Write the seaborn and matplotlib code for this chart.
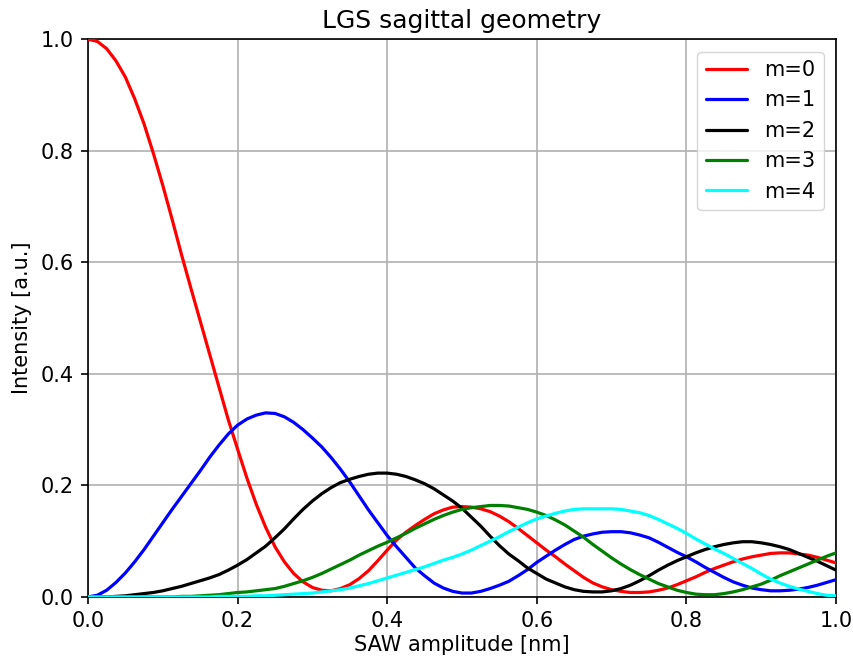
import matplotlib
matplotlib.use("Agg")
import matplotlib.pyplot as plt
import numpy as np
import pandas as pd
import seaborn as sns

# SAW amplitude sample positions [nm], 0 to 1 in steps of 0.0125
amplitude = np.round(np.linspace(0.0, 1.0, 81), 4)

# Diffraction order intensities [a.u.]
m0 = [1.000, 0.996, 0.983, 0.961, 0.932, 0.893, 0.848, 0.795, 0.738, 0.677,
      0.614, 0.554, 0.495, 0.436, 0.377, 0.318, 0.265, 0.213, 0.166, 0.125,
      0.090, 0.063, 0.042, 0.027, 0.017, 0.012, 0.011, 0.015, 0.022, 0.033,
      0.047, 0.065, 0.084, 0.102, 0.116, 0.128, 0.139, 0.149, 0.156, 0.161,
      0.162, 0.161, 0.158, 0.153, 0.145, 0.135, 0.123, 0.110, 0.097, 0.084,
      0.072, 0.059, 0.047, 0.035, 0.025, 0.018, 0.013, 0.010, 0.008, 0.008,
      0.009, 0.012, 0.016, 0.022, 0.029, 0.036, 0.044, 0.051, 0.057, 0.063,
      0.068, 0.072, 0.075, 0.078, 0.079, 0.079, 0.077, 0.075, 0.071, 0.066,
      0.061]
m1 = [0.000, 0.003, 0.012, 0.026, 0.043, 0.063, 0.085, 0.109, 0.133, 0.157,
      0.180, 0.203, 0.226, 0.250, 0.272, 0.292, 0.308, 0.319, 0.326, 0.330,
      0.329, 0.323, 0.313, 0.300, 0.285, 0.269, 0.250, 0.229, 0.206, 0.181,
      0.156, 0.133, 0.110, 0.090, 0.071, 0.052, 0.038, 0.025, 0.016, 0.010,
      0.007, 0.007, 0.010, 0.015, 0.021, 0.028, 0.038, 0.049, 0.062, 0.073,
      0.084, 0.094, 0.103, 0.109, 0.113, 0.116, 0.117, 0.117, 0.115, 0.111,
      0.106, 0.098, 0.089, 0.080, 0.072, 0.063, 0.053, 0.044, 0.035, 0.027,
      0.021, 0.016, 0.013, 0.011, 0.011, 0.012, 0.014, 0.017, 0.021, 0.026,
      0.031]
m2 = [0.000, 0.000, 0.000, 0.001, 0.002, 0.004, 0.006, 0.008, 0.011, 0.015,
      0.019, 0.024, 0.029, 0.034, 0.040, 0.048, 0.057, 0.067, 0.079, 0.091,
      0.106, 0.122, 0.140, 0.157, 0.172, 0.185, 0.196, 0.205, 0.211, 0.216,
      0.220, 0.222, 0.222, 0.220, 0.216, 0.210, 0.203, 0.194, 0.183, 0.172,
      0.159, 0.143, 0.127, 0.109, 0.092, 0.077, 0.065, 0.052, 0.042, 0.032,
      0.025, 0.018, 0.013, 0.010, 0.009, 0.009, 0.011, 0.015, 0.021, 0.029,
      0.038, 0.048, 0.057, 0.065, 0.072, 0.079, 0.085, 0.090, 0.094, 0.097,
      0.099, 0.099, 0.097, 0.094, 0.090, 0.085, 0.078, 0.071, 0.064, 0.056,
      0.048]
m3 = [0.000, 0.000, 0.000, 0.000, 0.000, 0.000, 0.000, 0.000, 0.000, 0.000,
      0.001, 0.001, 0.002, 0.003, 0.004, 0.006, 0.008, 0.009, 0.011, 0.013,
      0.015, 0.019, 0.024, 0.029, 0.035, 0.042, 0.050, 0.058, 0.066, 0.075,
      0.083, 0.091, 0.098, 0.106, 0.114, 0.123, 0.131, 0.139, 0.146, 0.152,
      0.157, 0.160, 0.162, 0.164, 0.164, 0.163, 0.160, 0.157, 0.152, 0.146,
      0.138, 0.129, 0.118, 0.107, 0.094, 0.082, 0.070, 0.059, 0.049, 0.040,
      0.032, 0.024, 0.018, 0.012, 0.008, 0.005, 0.004, 0.004, 0.006, 0.009,
      0.013, 0.018, 0.023, 0.030, 0.038, 0.045, 0.052, 0.059, 0.066, 0.073,
      0.079]
m4 = [0.000, 0.000, 0.000, 0.000, 0.000, 0.000, 0.000, 0.000, 0.000, 0.000,
      0.000, 0.000, 0.000, 0.000, 0.001, 0.001, 0.001, 0.001, 0.002, 0.002,
      0.003, 0.004, 0.005, 0.006, 0.007, 0.009, 0.011, 0.013, 0.016, 0.020,
      0.024, 0.029, 0.034, 0.039, 0.044, 0.049, 0.054, 0.060, 0.066, 0.071,
      0.077, 0.084, 0.092, 0.100, 0.108, 0.117, 0.125, 0.133, 0.140, 0.145,
      0.150, 0.154, 0.157, 0.158, 0.158, 0.158, 0.158, 0.157, 0.154, 0.151,
      0.146, 0.139, 0.131, 0.123, 0.114, 0.104, 0.095, 0.086, 0.078, 0.069,
      0.060, 0.051, 0.041, 0.032, 0.025, 0.019, 0.014, 0.010, 0.006, 0.003,
      0.002]

orders = ["m=0", "m=1", "m=2", "m=3", "m=4"]
colors = ["red", "blue", "black", "green", "cyan"]

frames = []
for name, vals in zip(orders, [m0, m1, m2, m3, m4]):
    frames.append(pd.DataFrame({"amplitude": amplitude, "intensity": vals, "order": name}))
df = pd.concat(frames, ignore_index=True)

sns.set_style("ticks")
plt.rcParams["font.family"] = ["DejaVu Sans"]
plt.rcParams["text.color"] = "black"
plt.rcParams["axes.labelcolor"] = "black"

fig = plt.figure(figsize=(8.54, 6.64), dpi=100)
ax = fig.add_axes([0.103, 0.101, 0.876, 0.840])

sns.lineplot(data=df, x="amplitude", y="intensity", hue="order",
             palette=dict(zip(orders, colors)), hue_order=orders,
             linewidth=2.3, ax=ax, zorder=3)

ax.set_xlim(0, 1)
ax.set_ylim(0, 1)
ax.set_xticks([0.0, 0.2, 0.4, 0.6, 0.8, 1.0])
ax.set_yticks([0.0, 0.2, 0.4, 0.6, 0.8, 1.0])
ax.tick_params(labelsize=15, direction="out", length=5, width=1.2,
               colors="black", labelcolor="black", pad=5)
ax.grid(True, color="#b0b0b0", linewidth=1.2)
for side in ax.spines.values():
    side.set_color("black")
    side.set_linewidth(1.2)
    side.set_visible(True)

ax.set_title("LGS sagittal geometry", fontsize=18, pad=8, color="black")
ax.set_xlabel("SAW amplitude [nm]", fontsize=15, labelpad=3, color="black")
ax.set_ylabel("Intensity [a.u.]", fontsize=15, labelpad=6, color="black")

leg = ax.legend(loc="upper right", fontsize=15, frameon=True, fancybox=True,
                framealpha=0.8, edgecolor="#cccccc", handlelength=2.0,
                borderaxespad=0.6)
for t in leg.get_texts():
    t.set_color("black")

fig.savefig("out.png", dpi=100)
